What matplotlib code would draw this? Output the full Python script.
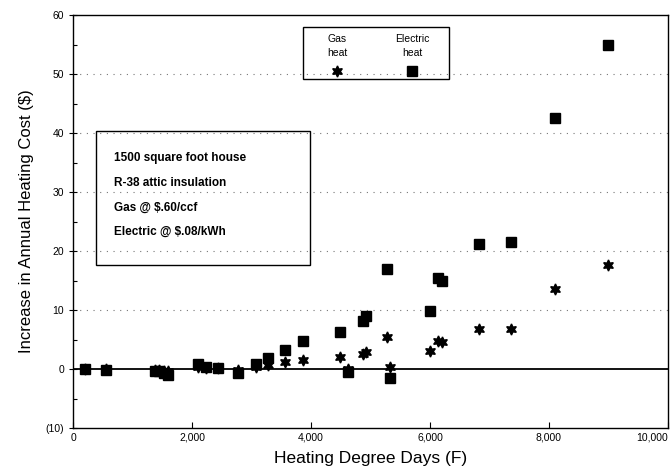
import matplotlib
matplotlib.use("Agg")
import matplotlib.pyplot as plt
from matplotlib.patches import Rectangle
from matplotlib.ticker import MultipleLocator

plt.rcParams['font.family'] = ['Liberation Sans', 'DejaVu Sans']

# heating degree days for each city
hdd = [200, 550, 1370, 1450, 1530, 1600, 2100, 2230, 2430, 2770, 3080, 3280,
       3570, 3870, 4480, 4630, 4880, 4920, 5270, 5320, 6000, 6130, 6200,
       6820, 7360, 8100, 9000]
# increase in annual heating cost ($)
electric = [0.0, -0.1, -0.3, -0.4, -0.6, -1.0, 0.8, 0.3, 0.2, -0.6, 0.9, 1.9,
            3.3, 4.8, 6.2, -0.5, 8.2, 9.0, 17.0, -1.5, 9.8, 15.4, 14.9,
            21.2, 21.6, 42.5, 55.0]
gas = [0.0, 0.0, -0.1, -0.2, -0.3, -0.4, 0.4, 0.2, 0.1, -0.1, 0.4, 0.6,
       1.2, 1.6, 2.1, 0.0, 2.6, 2.9, 5.4, 0.3, 3.1, 4.7, 4.6,
       6.7, 6.8, 13.6, 17.6]

y_ticks = [-10, 0, 10, 20, 30, 40, 50, 60]
y_labels = ['(10)', '0', '10', '20', '30', '40', '50', '60']
x_ticks = [0, 2000, 4000, 6000, 8000, 10000]
x_labels = ['0', '2,000', '4,000', '6,000', '8,000', '10,000']
notes = ['1500 square foot house', 'R-38 attic insulation',
         'Gas @ $.60/ccf', 'Electric @ $.08/kWh']

star = (6, 1, 0)

fig = plt.figure(figsize=(6.71, 4.74), dpi=100)
ax = fig.add_axes([0.1088, 0.097, 0.8867, 0.8713])

for y in y_ticks[2:-1]:
    ax.axhline(y, color='#777777', lw=0.8, linestyle=(0, (1, 5)), zorder=0)
ax.axhline(0, color='black', lw=1.3, zorder=1)

ax.plot(hdd, gas, linestyle='none', marker=star, color='black', markersize=8, zorder=3)
ax.plot(hdd, electric, linestyle='none', marker='s', color='black', markersize=7.5, zorder=2)

ax.set_xlim(0, 10000)
ax.set_ylim(-10, 60)
ax.set_xticks(x_ticks)
ax.set_xticklabels(x_labels, fontsize=7.5)
ax.set_yticks(y_ticks)
ax.set_yticklabels(y_labels, fontsize=7.5)
ax.yaxis.set_minor_locator(MultipleLocator(5))
ax.tick_params(axis='y', which='major', direction='inout', length=6, width=0.8)
ax.tick_params(axis='y', which='minor', direction='in', length=3, width=0.8)
ax.tick_params(axis='x', which='major', direction='in', length=4, width=0.8)
ax.get_xticklabels()[-1].set_horizontalalignment('right')

for s in ax.spines.values():
    s.set_linewidth(1.0)

ax.set_xlabel('Heating Degree Days (F)', fontsize=12.5, labelpad=6)
ax.set_ylabel('Increase in Annual Heating Cost ($)', fontsize=12, labelpad=8)

# notes box
ax.add_patch(Rectangle((0.0387, 0.395), 0.36, 0.324, transform=ax.transAxes,
                       fill=False, edgecolor='black', lw=1.0, zorder=4))
for i, line in enumerate(notes):
    ax.text(0.069, 0.654 - i * 0.06, line, transform=ax.transAxes,
            fontsize=8.5, fontweight='bold', va='center', ha='left')

# legend box
ax.add_patch(Rectangle((3860, 49.2), 2460, 8.8, fill=False,
                       edgecolor='black', lw=1.0, zorder=4))
ax.text(4440, 55.9, 'Gas', fontsize=7.5, ha='center', va='center')
ax.text(4440, 53.5, 'heat', fontsize=7.5, ha='center', va='center')
ax.text(5700, 55.9, 'Electric', fontsize=7.5, ha='center', va='center')
ax.text(5700, 53.5, 'heat', fontsize=7.5, ha='center', va='center')
ax.plot([4440], [50.5], linestyle='none', marker=star, color='black', markersize=8)
ax.plot([5700], [50.5], linestyle='none', marker='s', color='black', markersize=7.5)

fig.savefig('out.png', dpi=100)
